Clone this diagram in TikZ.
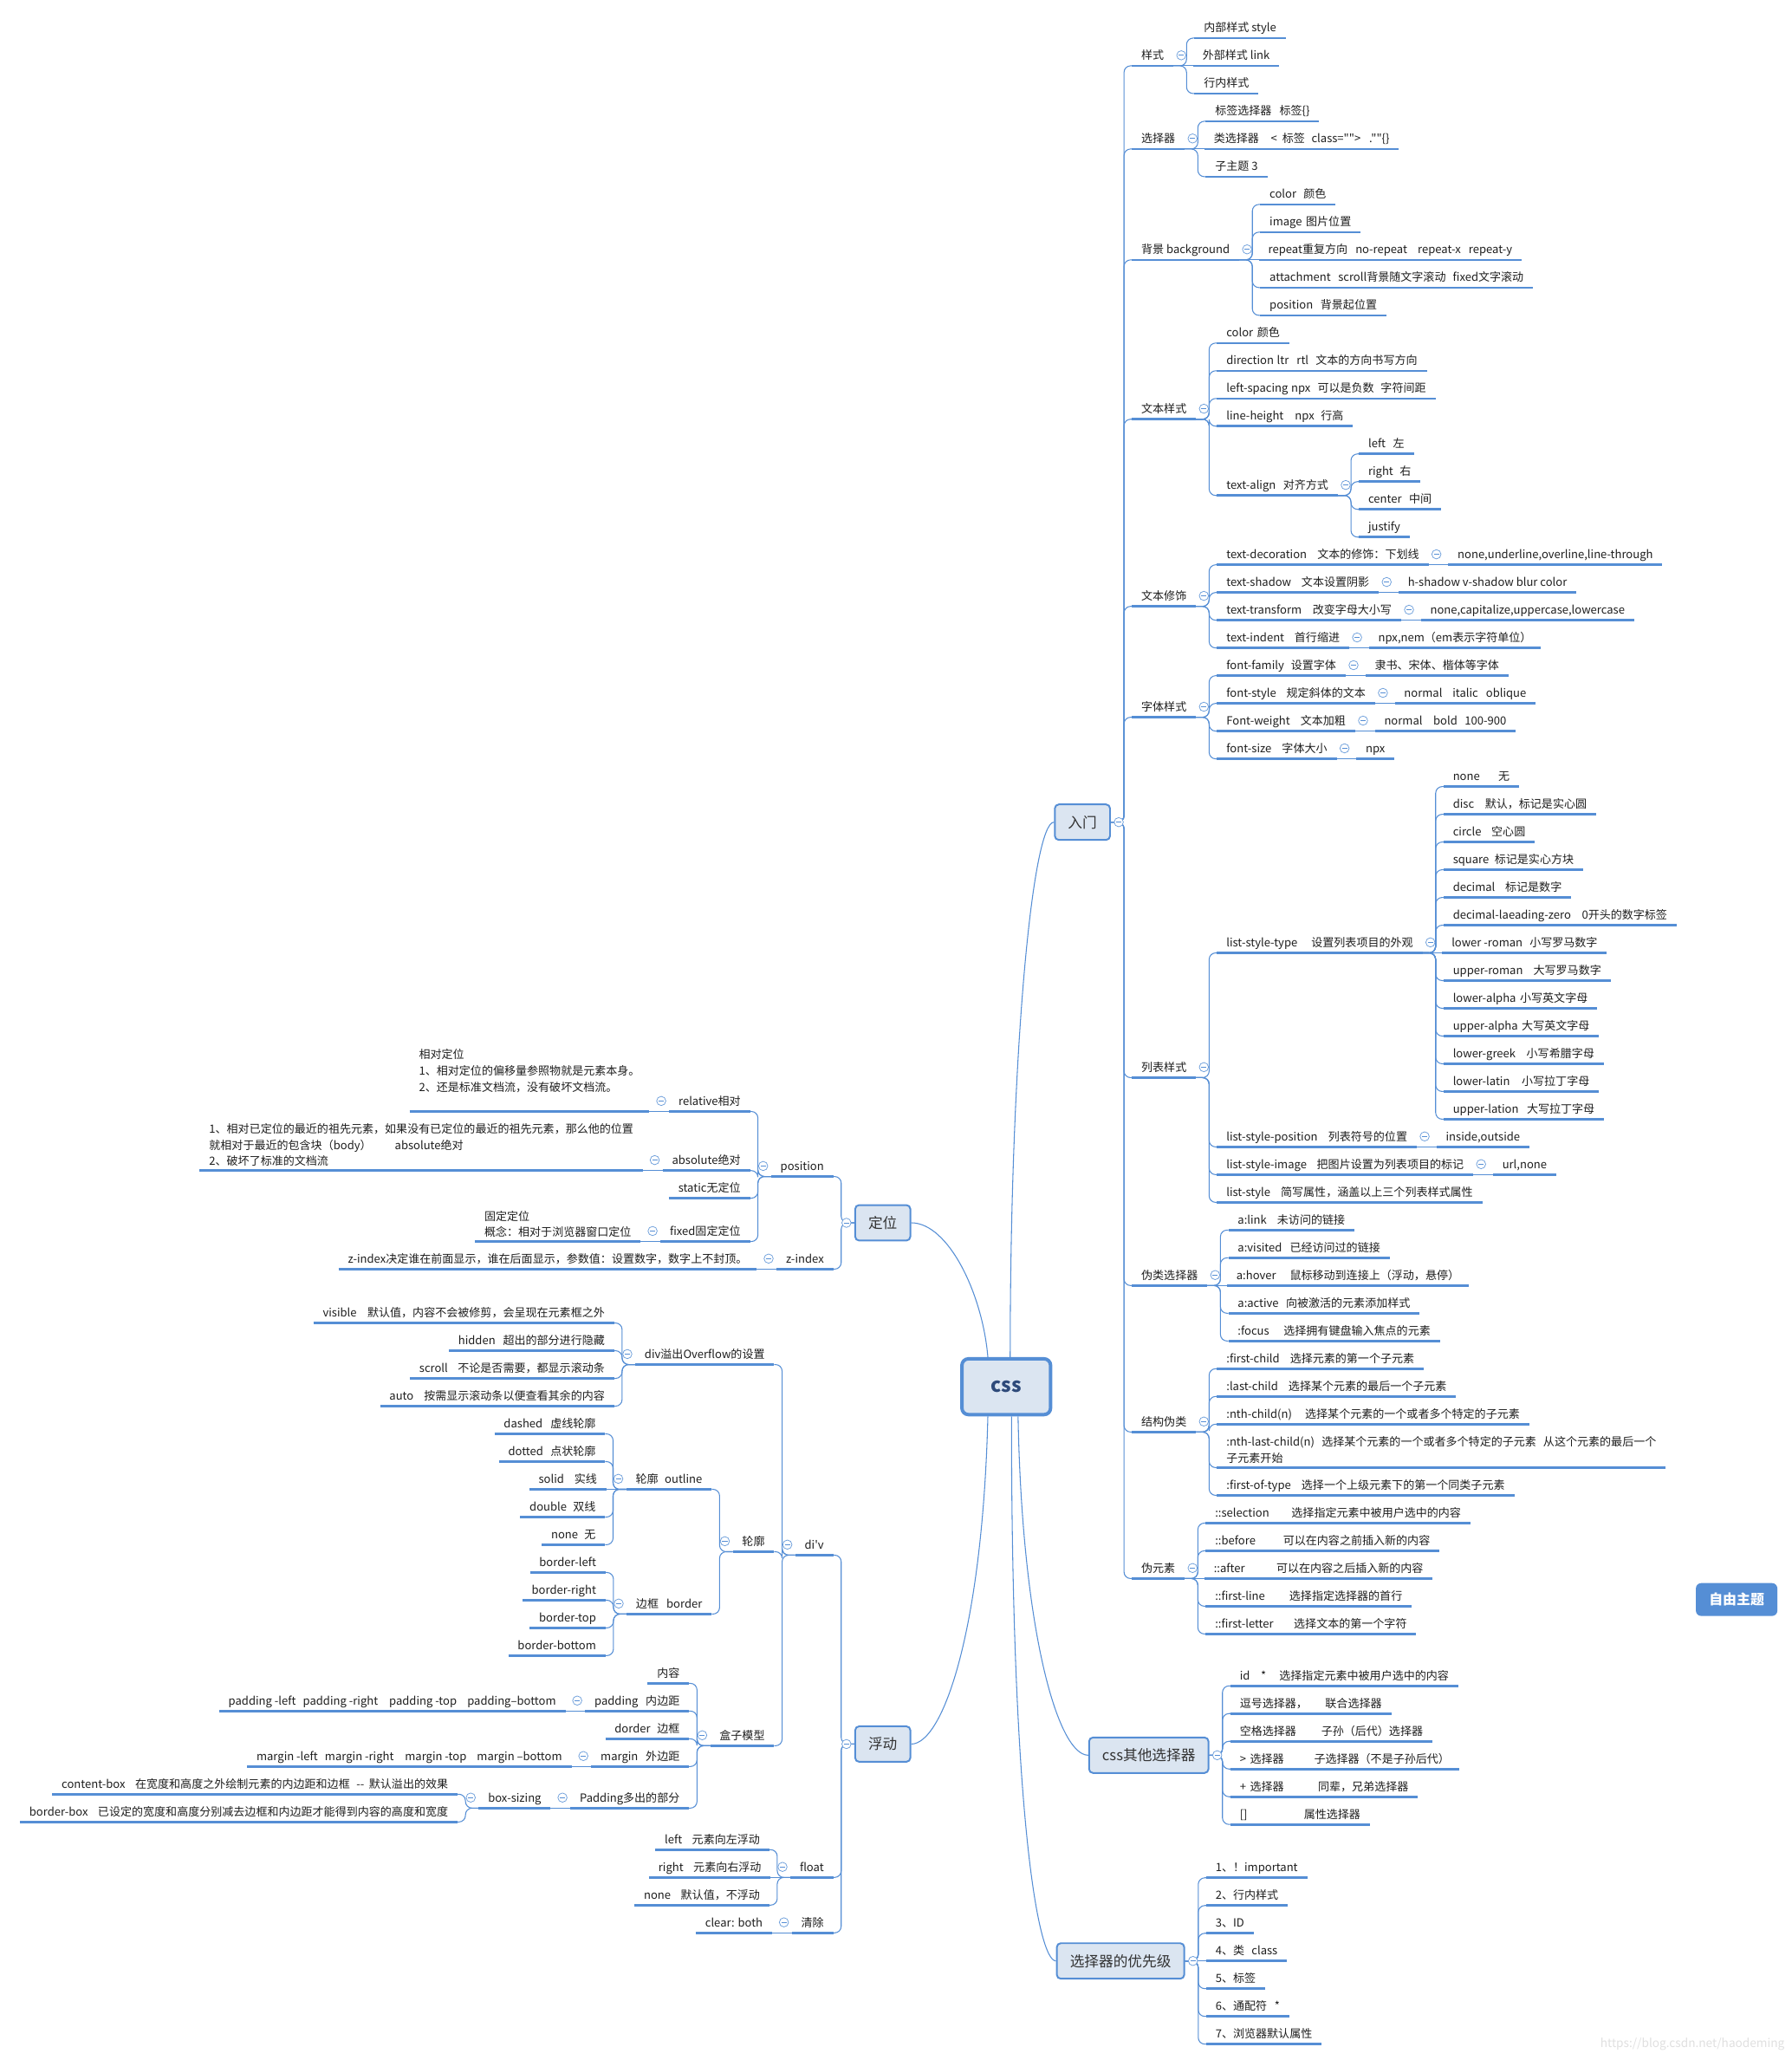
\documentclass[tikz,border=0pt]{standalone}
\usepackage{fontspec}
\setmainfont{Noto Sans CJK SC}[Ligatures=TeXOff]
\definecolor{lb}{HTML}{558ED5}
\definecolor{bf}{HTML}{DBE5F1}
\definecolor{tx}{HTML}{1E1E1E}
\definecolor{tb}{HTML}{333333}
\definecolor{ct}{HTML}{2E4A7A}
\newcommand\fs{\fontsize{8.6}{12.3}\selectfont}
\newcommand\gp[1]{\hspace{#1pt}}
\tikzset{
  rl/.style={anchor=south west, inner xsep=7pt, inner ysep=2.5pt, text height=7pt, text depth=2pt, font=\fs, text=tx},
  ll/.style={rl, anchor=south east},
  ml/.style={align=left, text height={}, text depth={}, inner ysep=3pt},
  ul/.style={draw=lb, line width=1.7pt},
  cn/.style={draw=lb, line width=0.7pt, rounded corners=5pt},
  cc/.style={circle, draw=lb!85, fill=white, line width=0.5pt, minimum size=7pt, inner sep=0pt,
    path picture={\draw[lb, line width=0.5pt] ([xshift=-2pt]path picture bounding box.center) -- ([xshift=2pt]path picture bounding box.center);}},
  mbox/.style={draw=lb, line width=1.3pt, fill=bf, rounded corners=3pt, minimum height=27pt, inner xsep=10pt, font=\fontsize{11}{13}\selectfont, text=tb},
  root/.style={draw=lb, line width=2.6pt, fill=bf, rounded corners=5pt, minimum width=67.5pt, minimum height=42.5pt, font=\fontsize{15}{17}\selectfont\bfseries, text=ct},
  free/.style={fill=lb, rounded corners=4pt, minimum width=62pt, minimum height=25pt, font=\fontsize{10.5}{12}\selectfont\bfseries, text=white},
}
\newcommand\rch[5][]{%
  \path (#2.south east |- 0,#4) ++(16,0) node[rl,#1] (#3) {#5};
  \draw[ul] (#3.south west) -- (#3.south east);
  \draw[cn] (#2.south east) -- ++(10,0) |- (#3.south west);}
\newcommand\rst[4][]{%
  \path (#2.south east) ++(15,0) node[rl,#1] (#3) {#4};
  \draw[ul] (#3.south west) -- (#3.south east);
  \draw[cn] (#2.south east) -- (#3.south west);}
\newcommand\lch[5][]{%
  \path (#2.south west |- 0,#4) ++(-16,0) node[ll,#1] (#3) {#5};
  \draw[ul] (#3.south west) -- (#3.south east);
  \draw[cn] (#2.south west) -- ++(-10,0) |- (#3.south east);}
\newcommand\lst[4][]{%
  \path (#2.south west) ++(-15,0) node[ll,#1] (#3) {#4};
  \draw[ul] (#3.south west) -- (#3.south east);
  \draw[cn] (#2.south west) -- (#3.south east);}
\newcommand\brch[5][]{%
  \path (#2.east |- 0,#4) ++(16,0) node[rl,#1] (#3) {#5};
  \draw[ul] (#3.south west) -- (#3.south east);
  \draw[cn] (#2.east) -- ++(10,0) |- (#3.south west);}
\newcommand\brst[4][]{%
  \path (#2.east) ++(16,0) node[rl,#1] (#3) {#4};
  \draw[ul] (#3.south west) -- (#3.south east);
  \draw[cn] (#2.east) -- (#3.south west);}
\newcommand\blch[5][]{%
  \path (#2.west |- 0,#4) ++(-16,0) node[ll,#1] (#3) {#5};
  \draw[ul] (#3.south west) -- (#3.south east);
  \draw[cn] (#2.west) -- ++(-10,0) |- (#3.south east);}
\newcommand\crr[1]{\node[cc] (o#1) at ([shift={(6,-8)}]#1.south east) {};}
\newcommand\cll[1]{\node[cc] (o#1) at ([shift={(-6,-8)}]#1.south west) {};}
\newcommand\cbr[1]{\node[cc] (o#1) at ([xshift=6pt]#1.east) {};}
\newcommand\cbl[1]{\node[cc] (o#1) at ([xshift=-6pt]#1.west) {};}
\begin{document}
\begin{tikzpicture}[x=1pt,y=-1pt]
\fill[white] (0,0) rectangle (1364,1568);
\useasboundingbox (0,0) rectangle (1364,1568);

% ---------- main nodes
\node[root] (css) at (766,1055.5) {css};
\node[mbox] (rm) at (824,625.8) {入门};
\node[mbox] (dw) at (672,930.75) {定位};
\node[mbox] (fd) at (672,1327.5) {浮动};
\node[mbox] (qt) at (874.5,1336) {css其他选择器};
\node[mbox] (yx) at (853,1492.6) {选择器的优先级};
\node[free] (zy) at (1322,1217.5) {自由主题};

\draw[cn] ([xshift=3pt]css.north) .. controls (769,800) and (786,625.8) .. (rm.west);
\draw[cn] ([xshift=-14pt]css.north) .. controls (748,985) and (722,930.75) .. (dw.east);
\draw[cn] ([xshift=-14pt]css.south) .. controls (748,1240) and (718,1327.5) .. (fd.east);
\draw[cn] ([xshift=9pt]css.south) .. controls (778,1240) and (805,1336) .. (qt.west);
\draw[cn] ([xshift=4pt]css.south) .. controls (770,1380) and (790,1492.6) .. (yx.west);

% ---------- 入门
\brch{rm}{ys}{50.1}{样式}
\brch{rm}{xzq}{113.4}{选择器}
\brch{rm}{bj}{197.8}{背景 background}
\brch{rm}{wbys}{319.1}{文本样式}
\brch{rm}{wbxs}{461.55}{文本修饰}
\brch{rm}{ztys}{545.95}{字体样式}
\brch{rm}{lbys}{820.25}{列表样式}
\brch{rm}{wlx}{978.5}{伪类选择器}
\brch{rm}{jgwl}{1090}{结构伪类}
\brch{rm}{wys}{1201.5}{伪元素}
\cbr{rm}

\rch{ys}{ysa}{29}{内部样式 style}
\rst{ys}{ysb}{外部样式 link}
\rch{ys}{ysc}{71.2}{行内样式}
\crr{ys}

\rch{xzq}{xa}{92.3}{标签选择器\gp6标签\{\}}
\rst{xzq}{xb}{类选择器\gp9<\gp4标签\gp5class="">\gp{6.5}.""\{\}}
\rch{xzq}{xc}{134.5}{子主题 3}
\crr{xzq}

\rch{bj}{bja}{155.6}{color\gp{5.4}颜色}
\rch{bj}{bjb}{176.7}{image\gp3图片位置}
\rst{bj}{bjc}{repeat重复方向\gp6no-repeat\gp8repeat-x\gp6repeat-y}
\rch{bj}{bjd}{218.9}{attachment\gp{5.7}scroll背景随文字滚动\gp{5.4}fixed文字滚动}
\rch{bj}{bje}{240}{position\gp{5.7}背景起位置}
\crr{bj}

\rch{wbys}{wa}{261.1}{color\gp3颜色}
\rch{wbys}{wb}{282.2}{direction\gp{2.4}ltr\gp6rtl\gp{5.4}文本的方向书写方向}
\rch{wbys}{wc}{303.3}{left-spacing\gp{2.4}npx\gp{5.4}可以是负数\gp{5.1}字符间距}
\rch{wbys}{wd}{324.4}{line-height\gp{8.6}npx\gp5行高}
\rch{wbys}{we}{377.15}{text-align\gp{5.6}对齐方式}
\crr{wbys}
\rch{we}{wea}{345.5}{left\gp{5.6}左}
\rch{we}{web}{366.6}{right\gp5右}
\rch{we}{wec}{387.7}{center\gp{5.6}中间}
\rch{we}{wed}{408.8}{justify}
\crr{we}

\rch{wbxs}{xsa}{429.9}{text-decoration\gp8文本的修饰：下划线}
\rch{wbxs}{xsb}{451}{text-shadow\gp{7.8}文本设置阴影}
\rch{wbxs}{xsc}{472.1}{text-transform\gp{8.3}改变字母大小写}
\rch{wbxs}{xsd}{493.2}{text-indent\gp{7.8}首行缩进}
\crr{wbxs}
\rst{xsa}{xsa1}{none,underline,overline,line-through}\crr{xsa}
\rst{xsb}{xsb1}{h-shadow v-shadow blur color}\crr{xsb}
\rst{xsc}{xsc1}{none,capitalize,uppercase,lowercase}\crr{xsc}
\rst{xsd}{xsd1}{npx,nem（em表示字符单位）}\crr{xsd}

\rch{ztys}{za}{514.3}{font-family\gp{5.3}设置字体}
\rch{ztys}{zb}{535.4}{font-style\gp{7.8}规定斜体的文本}
\rch{ztys}{zc}{556.5}{Font-weight\gp8文本加粗}
\rch{ztys}{zd}{577.6}{font-size\gp8字体大小}
\crr{ztys}
\rst{za}{za1}{隶书、宋体、楷体等字体}\crr{za}
\rst{zb}{zb1}{normal\gp{7.8}italic\gp6oblique}\crr{zb}
\rst{zc}{zc1}{normal\gp{8.3}bold\gp{5.6}100-900}\crr{zc}
\rst{zd}{zd1}{npx}\crr{zd}

\rch{lbys}{la}{725.3}{list-style-type\gp{10.6}设置列表项目的外观}
\rch{lbys}{lb2}{873}{list-style-position\gp8列表符号的位置}
\rch{lbys}{lc}{894.1}{list-style-image\gp{7.7}把图片设置为列表项目的标记}
\rch{lbys}{ld}{915.2}{list-style\gp8简写属性，涵盖以上三个列表样式属性}
\crr{lbys}
\rch{la}{la1}{598.7}{none\gp{14}无}
\rch{la}{la2}{619.8}{disc\gp{8.3}默认，标记是实心圆}
\rch{la}{la3}{640.9}{circle\gp{7.7}空心圆}
\rch{la}{la4}{662}{square\gp{4.3}标记是实心方块}
\rch{la}{la5}{683.1}{decimal\gp{7.7}标记是数字}
\rch{la}{la6}{704.2}{decimal-laeading-zero\gp{8.3}0开头的数字标签}
\rst{la}{la7}{lower -roman\gp{5.4}小写罗马数字}
\rch{la}{la8}{746.4}{upper-roman\gp8大写罗马数字}
\rch{la}{la9}{767.5}{lower-alpha\gp3小写英文字母}
\rch{la}{la10}{788.6}{upper-alpha\gp3大写英文字母}
\rch{la}{la11}{809.7}{lower-greek\gp{8.3}小写希腊字母}
\rch{la}{la12}{830.8}{lower-latin\gp9小写拉丁字母}
\rch{la}{la13}{851.9}{upper-lation\gp{6.3}大写拉丁字母}
\crr{la}
\rst{lb2}{lb2a}{inside,outside}\crr{lb2}
\rst{lc}{lca}{url,none}\crr{lc}

\rch{wlx}{pa}{936.3}{a:link\gp8未访问的链接}
\rch{wlx}{pb}{957.4}{a:visited\gp6已经访问过的链接}
\rst{wlx}{pc}{a:hover\gp{10.5}鼠标移动到连接上（浮动，悬停）}
\rch{wlx}{pd2}{999.6}{a:active\gp{5.5}向被激活的元素添加样式}
\rch{wlx}{pe}{1020.7}{:focus\gp{11}选择拥有键盘输入焦点的元素}
\crr{wlx}

\rch{jgwl}{ja}{1041.8}{:first-child\gp8选择元素的第一个子元素}
\rch{jgwl}{jb}{1062.9}{:last-child\gp8选择某个元素的最后一个子元素}
\rch{jgwl}{jc}{1084}{:nth-child(n)\gp{10}选择某个元素的一个或者多个特定的子元素}
\rch[ml]{jgwl}{jd}{1117.1}{:nth-last-child(n)\gp{5.5}选择某个元素的一个或者多个特定的子元素\gp{5.3}从这个元素的最后一个\\子元素开始}
\rch{jgwl}{je}{1138.2}{:first-of-type\gp8选择一个上级元素下的第一个同类子元素}
\crr{jgwl}

\rch{wys}{ea}{1159.3}{::selection\gp{17}选择指定元素中被用户选中的内容}
\rch{wys}{eb}{1180.4}{::before\gp{21}可以在内容之前插入新的内容}
\rst{wys}{ec}{::after\gp{24}可以在内容之后插入新的内容}
\rch{wys}{ed}{1222.6}{::first-line\gp{18.6}选择指定选择器的首行}
\rch{wys}{ee}{1243.7}{::first-letter\gp{15.5}选择文本的第一个字符}
\crr{wys}

% ---------- css其他选择器
\brch{qt}{qa}{1283.2}{id\gp{8.4}*\gp{10}选择指定元素中被用户选中的内容}
\brch{qt}{qb}{1304.3}{逗号选择器，\gp{13.5}联合选择器}
\brch{qt}{qc2}{1325.4}{空格选择器\gp{19}子孙（后代）选择器}
\brch{qt}{qd}{1346.5}{>\gp3选择器\gp{23}子选择器（不是子孙后代）}
\brch{qt}{qe}{1367.6}{+\gp3选择器\gp{26}同辈，兄弟选择器}
\brch{qt}{qf}{1388.7}{[]\gp{43}属性选择器}
\cbr{qt}

% ---------- 选择器的优先级
\brch{yx}{ya}{1429.3}{1、！important}
\brch{yx}{yb}{1450.4}{2、行内样式}
\brch{yx}{yc}{1471.5}{3、ID}
\brst{yx}{yd}{4、类\gp{5.5}class}
\brch{yx}{ye}{1513.7}{5、标签}
\brch{yx}{yf}{1534.8}{6、通配符\gp{5.8}*}
\brch{yx}{yg}{1555.9}{7、浏览器默认属性}
\cbr{yx}

% ---------- 定位
\blch{dw}{pos}{895.5}{position}
\blch{dw}{zi}{966}{z-index}
\cbl{dw}
\lst{zi}{zin}{z-index决定谁在前面显示，谁在后面显示，参数值：设置数字，数字上不封顶。}\cll{zi}
\lch{pos}{rel}{846}{relative相对}
\lch{pos}{abs}{891}{absolute绝对}
\lch{pos}{sta}{912}{static无定位}
\lch{pos}{fix}{945}{fixed固定定位}
\cll{pos}
\lst[ml]{rel}{reln}{相对定位\\1、相对定位的偏移量参照物就是元素本身。\\2、还是标准文档流，没有破坏文档流。\\\mbox{}}\cll{rel}
\lst[ml]{abs}{absn}{1、相对已定位的最近的祖先元素，如果没有已定位的最近的祖先元素，那么他的位置\\就相对于最近的包含块（body）\gp{17.8}absolute绝对\\2、破坏了标准的文档流}\cll{abs}
\lst[ml]{fix}{fixn}{固定定位\\概念：相对于浏览器窗口定位}\cll{fix}

% ---------- 浮动
\blch{fd}{dv}{1183.7}{di'v}
\blch{fd}{flt}{1429}{float}
\blch{fd}{qch}{1471.2}{清除}
\cbl{fd}
\lst{qch}{qch1}{clear: both}\cll{qch}
\lch{flt}{fa}{1407.9}{left\gp{7.6}元素向左浮动}
\lst{flt}{fb}{right\gp{7.6}元素向右浮动}
\lch{flt}{fc}{1450.1}{none\gp{7.6}默认值，不浮动}
\cll{flt}

\lch{dv}{ov}{1038.65}{div溢出Overflow的设置}
\lch{dv}{lk}{1181.1}{轮廓}
\lch{dv}{hz}{1328.8}{盒子模型}
\cll{dv}
\lch{ov}{ova}{1007}{visible\gp{8.2}默认值，内容不会被修剪，会呈现在元素框之外}
\lch{ov}{ovb}{1028.1}{hidden\gp{5.8}超出的部分进行隐藏}
\lch{ov}{ovc}{1049.2}{scroll\gp{7.6}不论是否需要，都显示滚动条}
\lch{ov}{ovd}{1070.3}{auto\gp{7.9}按需显示滚动条以便查看其余的内容}
\cll{ov}

\lch{lk}{ol}{1133.6}{轮廓\gp5outline}
\lch{lk}{bd}{1228.55}{边框\gp6border}
\cll{lk}
\lch{ol}{ola}{1091.4}{dashed\gp6虚线轮廓}
\lch{ol}{olb}{1112.5}{dotted\gp{5.5}点状轮廓}
\lst{ol}{olc}{solid\gp{7.9}实线}
\lch{ol}{old}{1154.7}{double\gp{4.8}双线}
\lch{ol}{ole}{1175.8}{none\gp{4.8}无}
\cll{ol}
\lch{bd}{bda}{1196.9}{border-left}
\lch{bd}{bdb}{1218}{border-right}
\lch{bd}{bdc}{1239.1}{border-top}
\lch{bd}{bdd}{1260.2}{border-bottom}
\cll{bd}

\lch{hz}{hza}{1281.3}{内容}
\lch{hz}{pdg}{1302.4}{padding\gp{5.8}内边距}
\lch{hz}{hzc}{1323.5}{dorder\gp5边框}
\lch{hz}{mg}{1344.6}{margin\gp{5.8}外边距}
\lch{hz}{pdd}{1376.25}{Padding多出的部分}
\cll{hz}
\lst{pdg}{pdg1}{padding -left\gp{5.4}padding -right\gp{8.5}padding -top\gp8padding–bottom}\cll{pdg}
\lst{mg}{mg1}{margin -left\gp{5.4}margin -right\gp{8.5}margin -top\gp8margin –bottom}\cll{mg}
\lst{pdd}{bs}{box-sizing}\cll{pdd}
\lch{bs}{bsa}{1365.7}{content-box\gp{7.6}在宽度和高度之外绘制元素的内边距和边框\gp5--\gp{3.6}默认溢出的效果}
\lch{bs}{bsb}{1386.8}{border-box\gp{7.6}已设定的宽度和高度分别减去边框和内边距才能得到内容的高度和宽度}
\cll{bs}

\node[font=\fontsize{9}{10}\selectfont, text=black!12, anchor=east] (wm) at (1362,1556) {https://blog.csdn.net/haodeming};
\end{tikzpicture}
\end{document}
